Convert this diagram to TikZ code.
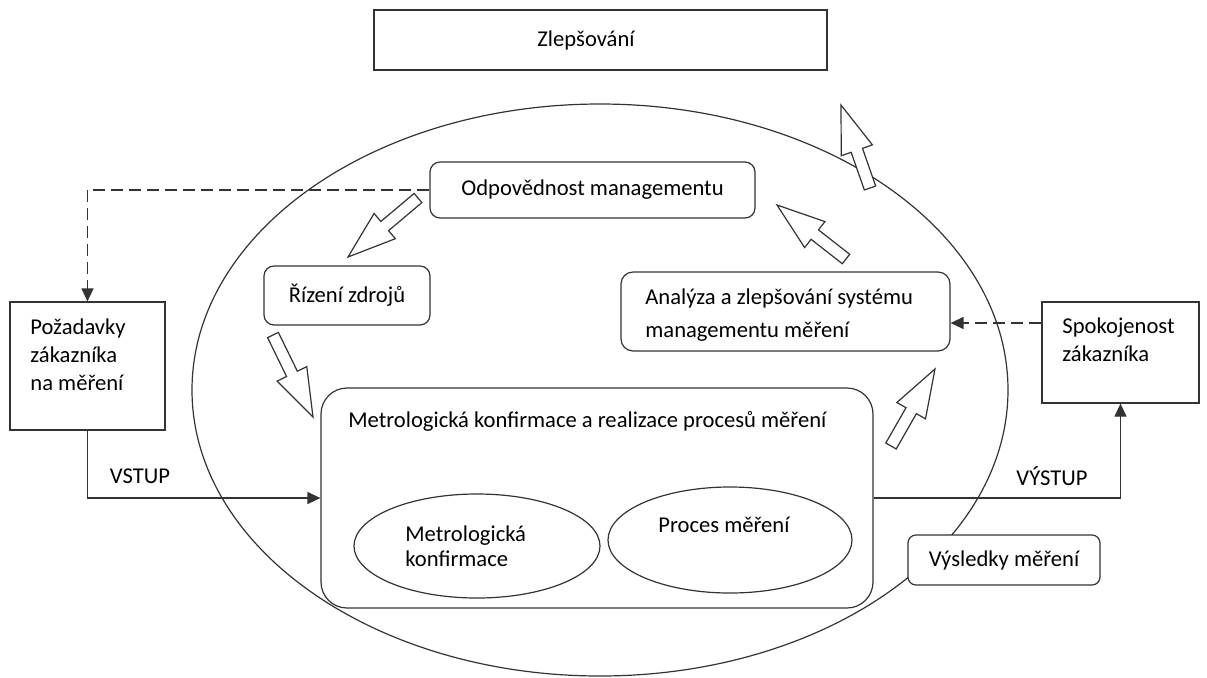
\documentclass[tikz,border=0pt]{standalone}
\usepackage{fontspec}
\setmainfont{Carlito}
\usetikzlibrary{arrows.meta,calc,shapes.geometric}

% hollow block arrow from a tail point to a tip point
\newcommand{\hollowarrow}[2]{%
  \coordinate (hb) at ($(#2)!24pt!(#1)$);
  \draw[blockarrow]
    ($(#1)!3pt!90:(#2)$) -- ($(hb)!3pt!90:(#2)$) -- ($(hb)!8.25pt!90:(#2)$) --
    (#2) --
    ($(hb)!8.25pt!-90:(#2)$) -- ($(hb)!3pt!-90:(#2)$) -- ($(#1)!3pt!-90:(#2)$) -- cycle;
}

\begin{document}
\begin{tikzpicture}[x=0.5pt,y=-0.5pt,
  every node/.style={font=\fontsize{11.3}{14}\selectfont},
  ln/.style={draw=black!80, line width=0.6pt},
  sqbox/.style={ln, fill=white, rectangle, inner sep=0pt},
  rbox/.style={sqbox, rounded corners=5pt},
  ell/.style={ln, ellipse, inner sep=0pt},
  txt/.style={inner sep=0pt, anchor=base west},
  blockarrow/.style={ln, fill=white, line join=miter},
  dasharrow/.style={ln, line width=0.7pt, dash pattern=on 6pt off 3pt, -{Triangle[width=6pt,length=6.5pt]}},
  solidarrow/.style={ln, -{Triangle[width=6pt,length=6.5pt]}},
]
\useasboundingbox (0,0) rectangle (1207,677);

% outer cycle
\draw[ln] (600,390) ellipse [x radius=204pt, y radius=143pt];

% top box
\node[sqbox, minimum width=226.5pt, minimum height=30pt] (zlep) at (600.5,40) {};
\node[inner sep=0pt, anchor=base] (zleptext) at (586,46) {Zlepšování};

% boxes inside the cycle
\node[rbox, minimum width=162.5pt, minimum height=28pt] (odp) at (592.5,190) {Odpovědnost managementu};
\node[rbox, minimum width=83pt, minimum height=29.5pt] (riz) at (347,295.5) {Řízení zdrojů};
\node[rbox, rounded corners=6pt, minimum width=164.5pt, minimum height=39.5pt] (ana) at (785.5,311.5) {};
\node[txt] (anatext1) at (645,304) {Analýza a zlepšování systému};
\node[txt] (anatext2) at (645,337) {managementu měření};

% customer boxes
\node[sqbox, minimum width=77.5pt, minimum height=64pt] (poz) at (87.5,366) {};
\node[txt] (poztext1) at (30,334) {Požadavky};
\node[txt] (poztext2) at (30,362) {zákazníka};
\node[txt] (poztext3) at (30,390) {na měření};

\node[sqbox, minimum width=78.5pt, minimum height=50.5pt] (spok) at (1120.5,352.5) {};
\node[txt] (spoktext1) at (1062,333) {Spokojenost};
\node[txt] (spoktext2) at (1062,361) {zákazníka};

% measurement process box
\node[rbox, rounded corners=13pt, minimum width=276pt, minimum height=110pt] (metro) at (597,498) {};
\node[txt] (metrotext) at (348,427) {Metrologická konfirmace a realizace procesů měření};
\node[ell, minimum width=123pt, minimum height=52pt] (konf) at (477,546) {};
\node[txt] (konftext1) at (405,541) {Metrologická};
\node[txt] (konftext2) at (405,566) {konfirmace};
\node[ell, minimum width=122pt, minimum height=53pt] (proc) at (730,540) {};
\node[txt] (proctext) at (658,532) {Proces měření};

\node[rbox, rounded corners=4pt, minimum width=96pt, minimum height=25pt] (vys) at (1004,560) {Výsledky měření};

% information flows
\draw[dasharrow] (odp.west) -| (poz.north);
\draw[dasharrow] (spok.west |- 0,323) -- (ana.east |- 0,323);
\draw[solidarrow] (poz.south) |- (metro.west);
\draw[solidarrow] (metro.east) -| (spok.south);
\node (vstup) at (140,476) {VSTUP};
\node (vystup) at (1052,476) {VÝSTUP};

% cycle arrows
\coordinate (a1t) at (418,198); \coordinate (a1h) at (348,257);
\coordinate (a2t) at (273,335); \coordinate (a2h) at (313,417);
\coordinate (a3t) at (891,446); \coordinate (a3h) at (935,369);
\coordinate (a4t) at (846,259); \coordinate (a4h) at (777,205);
\coordinate (a5t) at (870,188); \coordinate (a5h) at (841,105);
\hollowarrow{a1t}{a1h}
\hollowarrow{a2t}{a2h}
\hollowarrow{a3t}{a3h}
\hollowarrow{a4t}{a4h}
\hollowarrow{a5t}{a5h}
\end{tikzpicture}
\end{document}
